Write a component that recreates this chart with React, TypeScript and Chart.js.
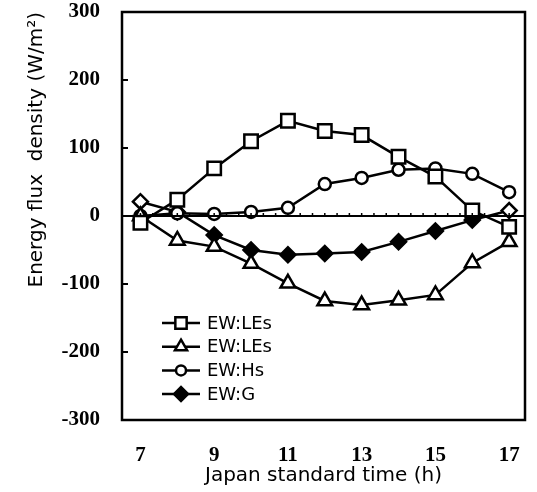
import React, { useEffect, useRef } from 'react';
import { Chart, registerables } from 'chart.js';
import { drawPoint } from 'chart.js/helpers';

Chart.register(...registerables);

const hours = [7, 8, 9, 10, 11, 12, 13, 14, 15, 16, 17];
const squareLEs = [-10, 24, 70, 110, 140, 125, 119, 87, 58, 8, -16];
const triangleLEs = [0, -36, -45, -70, -99, -125, -131, -124, -116, -69, -38];
const hsValues = [0, 4, 3, 6, 12, 47, 56, 68, 70, 62, 35];
const gValues = [21, 6, -28, -50, -57, -55, -53, -38, -22, -6, 8];
const seriesLabels = ['EW:LEs', 'EW:LEs', 'EW:Hs', 'EW:G'];
const xTickValues = [7, 9, 11, 13, 15, 17];
const yTickValues = [-300, -200, -100, 0, 100, 200, 300];
const innerTickValues = [-200, -100, 0, 100, 200];

const tickFont = { family: '"Liberation Serif", serif', size: 21, weight: 'bold' as const };
const titleFont = { family: '"DejaVu Sans", sans-serif', size: 20, weight: 'normal' as const };

const framePlugin = {
  id: 'frame',
  afterDatasetsDraw(chart: any) {
    const { ctx, chartArea } = chart;
    const { left, right, top, bottom } = chartArea;
    const ys = chart.scales.y;
    const xs = chart.scales.x;
    ctx.save();
    ctx.strokeStyle = '#000';
    ctx.lineWidth = 2.5;
    ctx.strokeRect(left, top, right - left, bottom - top);
    const y0 = ys.getPixelForValue(0);
    ctx.lineWidth = 2;
    ctx.beginPath();
    ctx.moveTo(left, y0);
    ctx.lineTo(right, y0);
    ctx.stroke();
    ctx.lineWidth = 1.5;
    for (let h = 7; h <= 17.01; h += 1 / 3) {
      const px = xs.getPixelForValue(h);
      ctx.beginPath();
      ctx.moveTo(px, y0);
      ctx.lineTo(px, y0 - 3);
      ctx.stroke();
    }
    ctx.lineWidth = 2;
    innerTickValues.forEach((v) => {
      const py = ys.getPixelForValue(v);
      ctx.beginPath();
      ctx.moveTo(left, py);
      ctx.lineTo(left + 6, py);
      ctx.stroke();
    });
    ctx.restore();
  },
};

const legendPlugin = {
  id: 'innerLegend',
  afterDraw(chart: any) {
    const { ctx } = chart;
    const legendRadius = [8, 7, 5, 7];
    ctx.save();
    chart.data.datasets.forEach((ds: any, i: number) => {
      const y = 323 + i * 23.7;
      ctx.strokeStyle = '#000';
      ctx.lineWidth = 2.5;
      ctx.beginPath();
      ctx.moveTo(162, y);
      ctx.lineTo(200, y);
      ctx.stroke();
      ctx.fillStyle = i === 3 ? '#000' : '#fff';
      ctx.lineWidth = 2.5;
      drawPoint(ctx, { pointStyle: ds.pointStyle, radius: legendRadius[i], rotation: 0, borderWidth: 2.5 } as any, 181, y);
      ctx.fillStyle = '#000';
      ctx.font = '18px "DejaVu Sans", sans-serif';
      ctx.textAlign = 'left';
      ctx.textBaseline = 'middle';
      ctx.fillText(ds.label, 207, y + 1);
    });
    ctx.restore();
  },
};

function toPoints(values: number[]) {
  return hours.map((h, i) => ({ x: h, y: values[i] }));
}

export default function App() {
  const canvasRef = useRef<HTMLCanvasElement | null>(null);

  useEffect(() => {
    const canvas = canvasRef.current;
    if (!canvas) return;
    const common = {
      borderColor: '#000',
      borderWidth: 2.5,
      pointBorderColor: '#000',
      pointBorderWidth: 2.5,
      tension: 0,
      fill: false,
    };
    const chart = new Chart(canvas, {
      type: 'line',
      data: {
        datasets: [
          { ...common, label: seriesLabels[0], data: toPoints(squareLEs), pointStyle: 'rect', pointRadius: 9.5, pointBackgroundColor: '#fff' },
          { ...common, label: seriesLabels[1], data: toPoints(triangleLEs), pointStyle: 'triangle', pointRadius: 8.5, pointBackgroundColor: '#fff' },
          { ...common, label: seriesLabels[2], data: toPoints(hsValues), pointStyle: 'circle', pointRadius: 6, pointBackgroundColor: '#fff' },
          {
            ...common,
            label: seriesLabels[3],
            data: toPoints(gValues),
            pointStyle: 'rectRot',
            pointRadius: 7.5,
            pointBackgroundColor: gValues.map((_, i) => (i === 0 || i === gValues.length - 1 ? '#fff' : '#000')),
          },
        ],
      },
      options: {
        responsive: false,
        animation: false,
        layout: { padding: { left: 0, top: 12, right: 9, bottom: 0 } },
        plugins: {
          legend: { display: false },
          tooltip: { enabled: false },
        },
        scales: {
          x: {
            type: 'linear',
            min: 6.5,
            max: 17.43,
            grid: { display: false, drawTicks: false },
            border: { display: false },
            afterBuildTicks: (scale: any) => {
              scale.ticks = xTickValues.map((v) => ({ value: v }));
            },
            afterFit: (scale: any) => {
              scale.height = 72;
              scale.paddingLeft = 0;
              scale.paddingRight = 0;
            },
            ticks: {
              color: '#000',
              font: tickFont,
              padding: 23,
              maxRotation: 0,
              autoSkip: false,
            },
            title: {
              display: true,
              text: 'Japan standard time (h)',
              color: '#000',
              font: titleFont,
              padding: { top: 0, bottom: 4 },
            },
          },
          y: {
            type: 'linear',
            min: -300,
            max: 300,
            grid: { display: false, drawTicks: false },
            border: { display: false },
            afterBuildTicks: (scale: any) => {
              scale.ticks = yTickValues.map((v) => ({ value: v }));
            },
            afterFit: (scale: any) => {
              scale.width = 122;
              scale.paddingTop = 0;
              scale.paddingBottom = 0;
            },
            ticks: {
              color: '#000',
              font: tickFont,
              padding: 22,
            },
            title: {
              display: true,
              text: 'Energy flux  density (W/m²)',
              color: '#000',
              font: titleFont,
              align: 'end',
              padding: { top: 25, bottom: 0 },
            },
          },
        },
      },
      plugins: [framePlugin, legendPlugin],
    } as any);
    return () => chart.destroy();
  }, []);

  return (
    <div style={{ position: 'fixed', left: 0, top: 0, width: 537, height: 492, background: '#fff' }}>
      <canvas ref={canvasRef} width={537} height={492} style={{ display: 'block' }} />
    </div>
  );
}
